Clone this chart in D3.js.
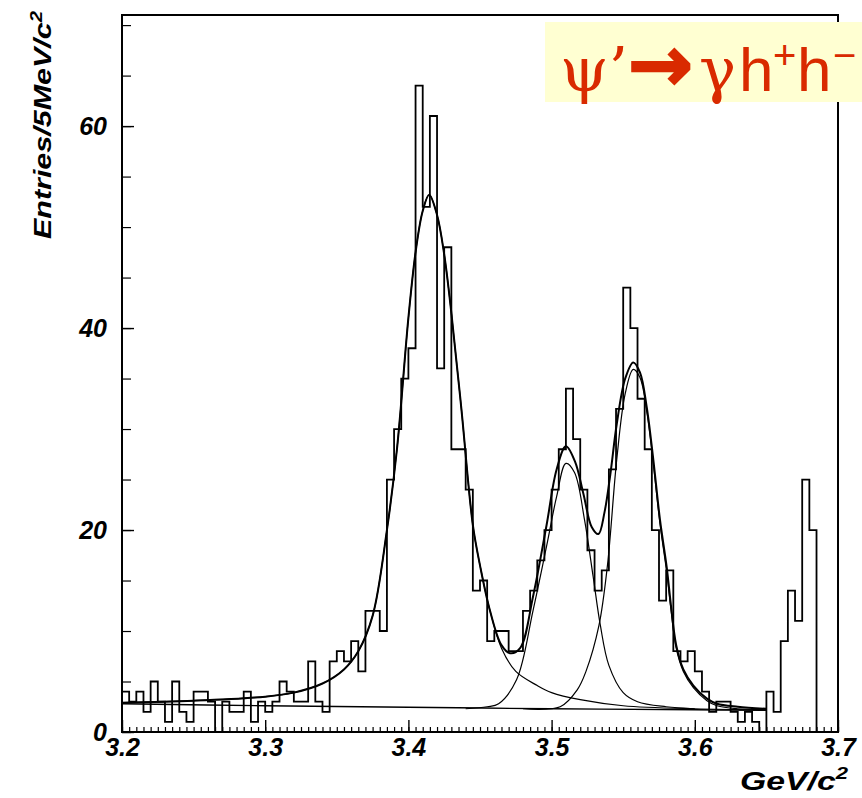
<!DOCTYPE html>
<html>
<head>
<meta charset="utf-8">
<script src="https://cdn.jsdelivr.net/npm/d3@7"></script>
<style>
  body { margin: 0; background: #fff; }
</style>
</head>
<body>
<div id="chart"></div>
<script>
// entries per 5 MeV bin, 3.200 .. 3.700 GeV/c2
const counts = [
  4, 3, 4, 2, 5, 3, 1, 5, 2, 1,
  4, 4, 3, 0, 3, 2, 2, 4, 1, 3,
  2, 3, 5, 4, 3, 3, 7, 3, 2, 7,
  8, 7, 9, 6, 12, 12, 10, 25, 30, 35,
  38, 64, 52, 61, 36, 48, 28, 28, 24, 14,
  15, 9, 10, 10, 8, 8, 12, 14, 17, 20,
  24, 28, 34, 29, 24, 18, 14, 16, 26, 32,
  44, 40, 33, 28, 20, 13, 16, 8, 7, 8,
  6, 4, 2, 3, 3, 2, 1, 2, 1, 0,
  4, 2, 9, 14, 11, 25, 20, 0, 0, 0
];
const binLow = 3.2;
const binWidth = 0.005;

// fit curves: [mass, entries]
const fitChic0 = [
  [3.20, 2.9], [3.25, 3.1], [3.30, 3.5], [3.32, 3.9], [3.34, 4.8], [3.355, 6.2],
  [3.365, 8.0], [3.375, 11.5], [3.385, 20], [3.392, 28], [3.40, 41], [3.405, 47.5],
  [3.41, 51.6], [3.4145, 53.2], [3.42, 51.2], [3.425, 47.3], [3.43, 41.5], [3.437, 32],
  [3.445, 20.5], [3.45, 16.5], [3.457, 12], [3.465, 8.3], [3.475, 6], [3.49, 4.6],
  [3.50, 3.9], [3.52, 3.2], [3.55, 2.6], [3.60, 2.3], [3.65, 2.2]
];
const fitTotal = [
  [3.20, 2.9], [3.25, 3.1], [3.30, 3.5], [3.32, 3.9], [3.34, 4.8], [3.355, 6.2],
  [3.365, 8.0], [3.375, 11.5], [3.385, 20], [3.392, 28], [3.40, 41], [3.405, 47.5],
  [3.41, 51.6], [3.4145, 53.2], [3.42, 51.2], [3.425, 47.3], [3.43, 41.5], [3.437, 32],
  [3.445, 20.5], [3.45, 16.5], [3.457, 12], [3.465, 8.6], [3.471, 7.8], [3.478, 8.3],
  [3.487, 13.4], [3.4965, 20.5], [3.5035, 26], [3.51, 28.3], [3.5163, 26.8], [3.5222, 23.6],
  [3.528, 20.3], [3.5327, 19.6], [3.537, 21.8], [3.541, 25.5], [3.5455, 30.5], [3.5514, 35],
  [3.557, 36.6], [3.5617, 35.6], [3.5664, 32.2], [3.571, 27], [3.5757, 21], [3.5804, 16.3],
  [3.5833, 12.6], [3.587, 8.6], [3.592, 6.2], [3.599, 4.6], [3.6085, 3.3], [3.6155, 2.8],
  [3.63, 2.5], [3.65, 2.3]
];
const fitChic1 = [
  [3.44, 2.3], [3.455, 2.5], [3.463, 2.8], [3.4756, 5.2], [3.487, 12], [3.4965, 18.4],
  [3.5035, 23.3], [3.51, 26.6], [3.516, 25.7], [3.523, 21], [3.529, 15.4], [3.534, 10.6],
  [3.54, 6.6], [3.55, 3.9], [3.56, 3], [3.58, 2.5], [3.60, 2.3]
];
const fitChic2 = [
  [3.48, 2.3], [3.506, 2.5], [3.518, 4.2], [3.524, 6], [3.533, 10.5], [3.539, 16.5],
  [3.5455, 27], [3.5514, 33.5], [3.557, 35.9], [3.5617, 35.1], [3.5664, 31.8], [3.571, 26.6],
  [3.5757, 20.6], [3.5804, 15.8], [3.5833, 12.2], [3.587, 8.3], [3.592, 6], [3.599, 4.4],
  [3.6085, 3.1], [3.6155, 2.6], [3.63, 2.3], [3.65, 2.2]
];
const fitBkg = [
  [3.20, 2.8], [3.30, 2.6], [3.40, 2.45], [3.50, 2.3], [3.60, 2.2], [3.65, 2.15]
];

const xTickLabels = [3.2, 3.3, 3.4, 3.5, 3.6, 3.7];
const yTickLabels = [0, 20, 40, 60];

// 1. chart space
const width = 862;
const height = 798;
const margin = ({top: 15, right: 24, bottom: 66, left: 122});
const font = 'Liberation Sans, Arial, Helvetica, sans-serif';

const svg = d3.create('svg')
    .attr('width', width)
    .attr('height', height);

// 2. scales
const xScale = d3.scaleLinear()
    .domain([3.2, 3.7])
    .range([margin.left, width - margin.right]);

const yScale = d3.scaleLinear()
    .domain([0, 71])
    .range([height - margin.bottom, margin.top]);

// 3. histogram outline
const histPts = counts.map((c, i) => [binLow + i * binWidth, c]);
histPts.push([binLow + counts.length * binWidth, counts[counts.length - 1]]);

const stepLine = d3.line()
    .x(d => xScale(d[0]))
    .y(d => yScale(d[1]))
    .curve(d3.curveStepAfter);

svg.append('path')
    .attr('d', stepLine(histPts))
    .attr('fill', 'none')
    .attr('stroke', '#000')
    .attr('stroke-width', 1.8);

// 4. fit curves
const fitLine = d3.line()
    .x(d => xScale(d[0]))
    .y(d => yScale(d[1]))
    .curve(d3.curveCatmullRom);

[[fitBkg, 1.4], [fitChic0, 1.2], [fitChic1, 1.2], [fitChic2, 1.2], [fitTotal, 2]].forEach(([pts, w]) => {
    svg.append('path')
        .attr('d', fitLine(pts))
        .attr('fill', 'none')
        .attr('stroke', '#000')
        .attr('stroke-width', w);
});

// 5. axes, ticks pointing inward
const styleLabels = g => g.selectAll('text')
    .attr('font-family', font)
    .attr('font-size', 25)
    .attr('font-weight', 'bold')
    .attr('font-style', 'italic')
    .attr('fill', '#000');

const xMinor = d3.range(0, 101).map(i => 3.2 + i * 0.005);
svg.append('g')
    .attr('transform', `translate(0, ${height - margin.bottom})`)
    .call(d3.axisBottom(xScale).tickValues(xMinor).tickSize(-5).tickFormat(''))
    .call(g => g.select('.domain').remove())
    .call(g => g.selectAll('line').attr('stroke-width', 1.2));

svg.append('g')
    .attr('transform', `translate(0, ${height - margin.bottom})`)
    .call(d3.axisBottom(xScale).tickValues(xTickLabels).tickSize(-12).tickPadding(6)
        .tickFormat(d3.format('.1f')))
    .call(g => g.select('.domain').remove())
    .call(g => g.selectAll('line').attr('stroke-width', 1.4))
    .call(styleLabels);

const yMinor = d3.range(0, 71, 5);
svg.append('g')
    .attr('transform', `translate(${margin.left}, 0)`)
    .call(d3.axisLeft(yScale).tickValues(yMinor).tickSize(-9).tickFormat(''))
    .call(g => g.select('.domain').remove())
    .call(g => g.selectAll('line').attr('stroke-width', 1.2));

svg.append('g')
    .attr('transform', `translate(${margin.left}, 0)`)
    .call(d3.axisLeft(yScale).tickValues(yTickLabels).tickSize(-12).tickPadding(15))
    .call(g => g.select('.domain').remove())
    .call(g => g.selectAll('line').attr('stroke-width', 1.4))
    .call(styleLabels);

// frame
svg.append('rect')
    .attr('x', margin.left)
    .attr('y', margin.top)
    .attr('width', width - margin.left - margin.right)
    .attr('height', height - margin.top - margin.bottom)
    .attr('fill', 'none')
    .attr('stroke', '#000')
    .attr('stroke-width', 2);

// 6. axis titles
const xTitle = svg.append('g')
    .attr('transform', 'translate(848, 790) scale(1.3, 1)')
    .append('text')
    .attr('text-anchor', 'end')
    .attr('font-family', font)
    .attr('font-size', 26)
    .attr('font-weight', 'bold')
    .attr('font-style', 'italic');
xTitle.append('tspan').text('GeV/c');
xTitle.append('tspan').attr('dy', -11).attr('font-size', 17).text('2');

const yTitle = svg.append('g')
    .attr('transform', 'translate(51, 125) rotate(-90) scale(1.27, 1)')
    .append('text')
    .attr('text-anchor', 'middle')
    .attr('font-family', font)
    .attr('font-size', 24)
    .attr('font-weight', 'bold')
    .attr('font-style', 'italic');
yTitle.append('tspan').text('Entries/5MeV/c');
yTitle.append('tspan').attr('dy', -9).attr('font-size', 16).text('2');

// 7. decay label box
svg.append('rect')
    .attr('x', 545)
    .attr('y', 22)
    .attr('width', 330)
    .attr('height', 80)
    .attr('fill', '#ffffd2');

const red = '#d92a00';
const label = svg.append('text')
    .attr('y', 91)
    .attr('font-size', 62)
    .attr('fill', red);
label.append('tspan').attr('x', 560).attr('font-family', 'DejaVu Serif, serif').text('ψ’');
label.append('tspan').attr('x', 628).attr('font-family', 'DejaVu Sans, sans-serif')
    .attr('font-weight', 'bold').attr('font-size', 78)
    .attr('stroke', red).attr('stroke-width', 2).text('→');
label.append('tspan').attr('x', 699).attr('font-family', 'DejaVu Serif, serif').text('γ');
label.append('tspan').attr('x', 739).attr('font-family', font).text('h');
label.append('tspan').attr('x', 773).attr('font-family', font).attr('font-size', 40).attr('dy', -22).text('+');
label.append('tspan').attr('x', 797).attr('font-family', font).attr('dy', 22).text('h');
label.append('tspan').attr('x', 833).attr('font-family', font).attr('font-size', 40).attr('dy', -22).text('−');

document.getElementById('chart').appendChild(svg.node());
</script>
</body>
</html>
